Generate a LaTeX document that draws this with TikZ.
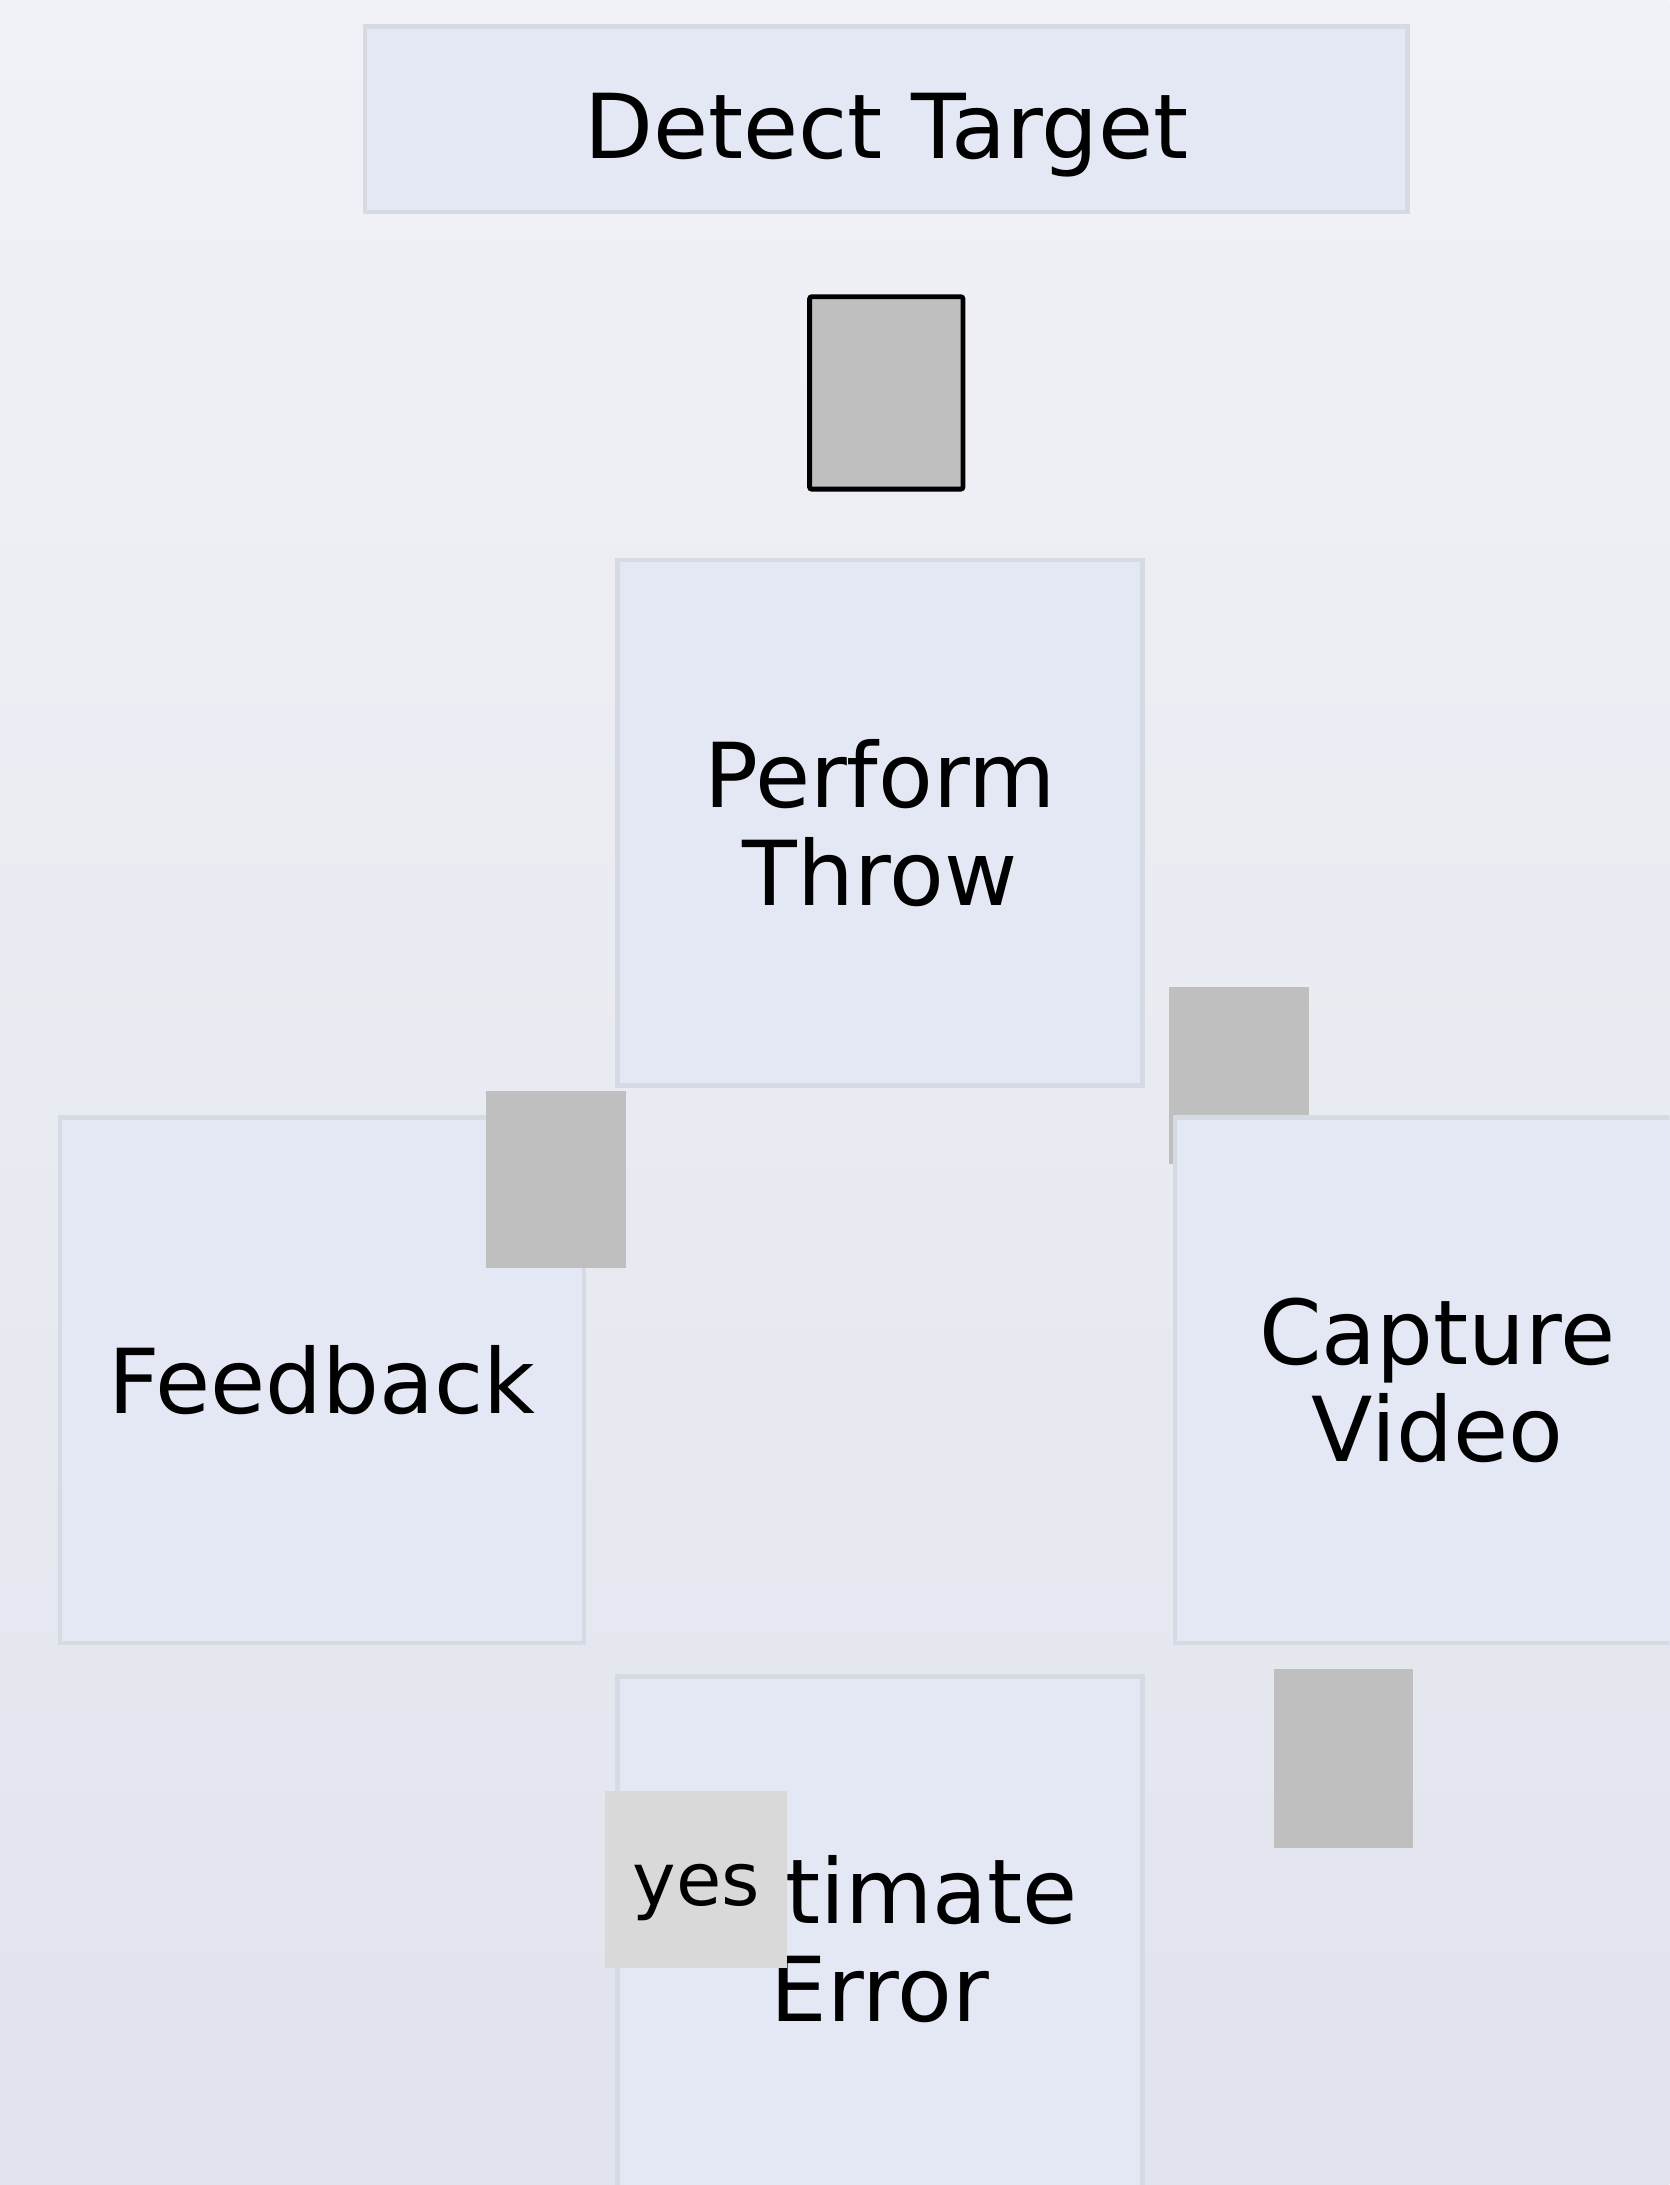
\documentclass[tikz,border=0pt]{standalone}
\usepackage{fontspec}
\setmainfont{DejaVu Sans}
\definecolor{bgtop}{HTML}{F1F2F7}
\definecolor{bgbot}{HTML}{E1E4ED}
\definecolor{boxfill}{HTML}{E4E8F4}
\definecolor{boxline}{HTML}{D5DAE3}
\definecolor{phgrey}{HTML}{BFBFBF}
\definecolor{lblgrey}{HTML}{D9D9D9}
\tikzset{
  stepbox/.style={draw=boxline, fill=boxfill, line width=2.2pt, align=center,
    inner sep=0pt, font=\fontsize{45pt}{49pt}\selectfont,
    minimum width=263.9pt, minimum height=263.9pt},
  placeholder/.style={fill=phgrey, draw=none, inner sep=0pt,
    minimum width=70pt, minimum height=88.9pt},
  yeslabel/.style={fill=lblgrey, draw=none, inner sep=0pt,
    font=\fontsize{37pt}{40pt}\selectfont, text depth=0pt,
    minimum width=91.7pt, minimum height=88.9pt}
}
\begin{document}
\begin{tikzpicture}[x=0.7pt,y=-0.7pt]
\useasboundingbox (0,0) rectangle (1198,1568);
\clip (0,0) rectangle (1198,1568);
\shade[top color=bgtop, bottom color=bgbot] (0,0) rectangle (1198,1568);

\node[stepbox, text depth=0pt, minimum width=523.6pt, minimum height=93.1pt] (detect) at (636,85.5) {\raisebox{-3.5pt}[\height][0pt]{Detect Target}};
\node[placeholder, draw=black, line width=2.4pt, rounded corners=1pt,
      minimum width=77pt, minimum height=96.6pt] (ph1) at (636,282) {};
\node[stepbox] (throw) at (631.5,590.5) {Perform\\Throw};
\node[placeholder] (ph2) at (889,771.5) {};
\node[stepbox] (capture) at (1031.5,990.5) {Capture\\Video};
\node[stepbox, minimum width=263.2pt] (feedback) at (231,990.5) {Feedback};
\node[placeholder] (ph3) at (399,846.5) {};
\node[stepbox] (estimate) at (631.5,1391.5) {Estimate\\Error};
\node[placeholder, minimum height=89.6pt] (ph4) at (964,1262) {};
\node[yeslabel] (yes) at (499.5,1348.5) {\raisebox{-3pt}[\height][0pt]{yes}};
\end{tikzpicture}
\end{document}
